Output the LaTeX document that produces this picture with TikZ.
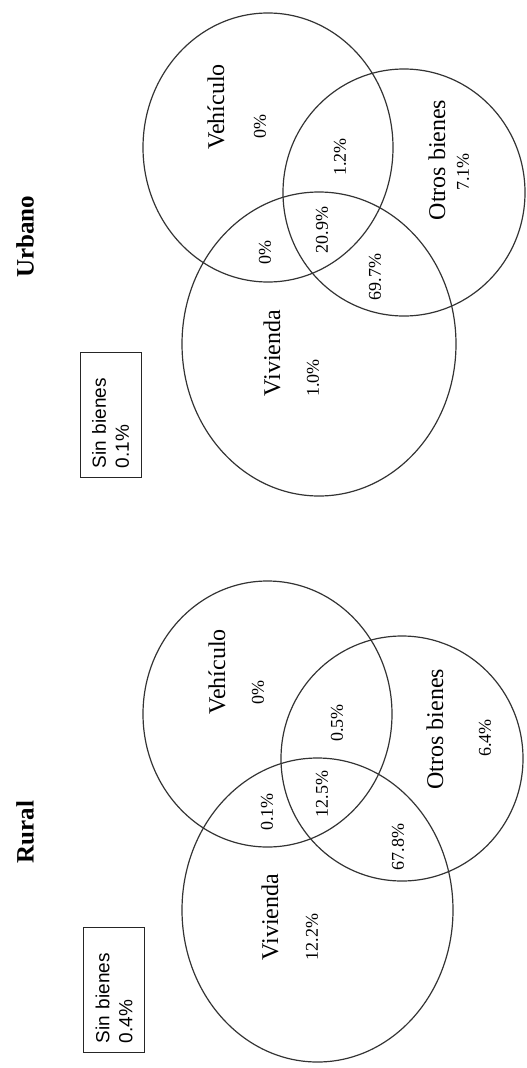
\documentclass[tikz,border=0pt]{standalone}
\usepackage{fontspec}
\setmainfont{Liberation Serif}
\newfontfamily\arialfont{Liberation Sans}
\begin{document}
\begin{tikzpicture}[x=1pt,y=1pt,
  venn/.style={line width=1.2pt, draw=black!80},
  lbl/.style={rotate=90, inner sep=0pt, font=\fontsize{24}{26}\selectfont},
  pct/.style={rotate=90, inner sep=0pt, font=\fontsize{18}{20}\selectfont},
  ttl/.style={rotate=90, inner sep=0pt, font=\fontsize{25}{27}\selectfont\bfseries},
  sinbox/.style={rotate=90, draw=black!85, line width=1pt, minimum width=125pt, minimum height=61pt,
    text width=107pt, align=left, inner sep=0pt, font=\arialfont\fontsize{19}{23}\selectfont}]
\useasboundingbox (0,0) rectangle (527,-1068);
% ---------- Urbano ----------
\coordinate (cVehU) at (268,-147.5);
\coordinate (cOtrU) at (404,-192.5);
\coordinate (cVivU) at (319,-344);
\draw[venn] (cVehU) ellipse [x radius=125, y radius=134.5];
\draw[venn] (cOtrU) ellipse [x radius=121, y radius=123.5];
\draw[venn] (cVivU) ellipse [x radius=137, y radius=152];
\node[ttl] (tU) at (25,-237) {Urbano};
\node[sinbox] (sU) at (110.5,-414.5) {Sin bienes\\0.1\%};
\node[lbl] (vehU) at (216,-107) {Vehículo};
\node[pct] (vehUp) at (260,-127) {0\%};
\node[pct] (voU) at (340,-157) {1.2\%};
\node[lbl] (otrU) at (437,-160) {Otros bienes};
\node[pct] (otrUp) at (463,-172) {7.1\%};
\node[pct] (vvU) at (265,-252) {0\%};
\node[pct] (allU) at (322,-230) {20.9\%};
\node[pct] (ovU) at (375,-277) {69.7\%};
\node[lbl] (vivU) at (272,-353) {Vivienda};
\node[pct] (vivUp) at (313,-378) {1.0\%};
% ---------- Rural ----------
\coordinate (cVehR) at (267.5,-714);
\coordinate (cOtrR) at (402,-758.5);
\coordinate (cVivR) at (317.5,-910);
\draw[venn] (cVehR) ellipse [x radius=124.5, y radius=133];
\draw[venn] (cOtrR) ellipse [x radius=121, y radius=122.5];
\draw[venn] (cVivR) ellipse [x radius=135.5, y radius=152];
\node[ttl] (tR) at (25,-832) {Rural};
\node[sinbox] (sR) at (114,-989.5) {Sin bienes\\0.4\%};
\node[lbl] (vehR) at (217,-672) {Vehículo};
\node[pct] (vehRp) at (258,-692) {0\%};
\node[pct] (voR) at (337,-723) {0.5\%};
\node[lbl] (otrR) at (435,-729) {Otros bienes};
\node[pct] (otrRp) at (485,-738) {6.4\%};
\node[pct] (vvR) at (267,-812) {0.1\%};
\node[pct] (allR) at (322,-794) {12.5\%};
\node[pct] (ovR) at (398,-847) {67.8\%};
\node[lbl] (vivR) at (270,-917) {Vivienda};
\node[pct] (vivRp) at (312,-937) {12.2\%};
\end{tikzpicture}
\end{document}
